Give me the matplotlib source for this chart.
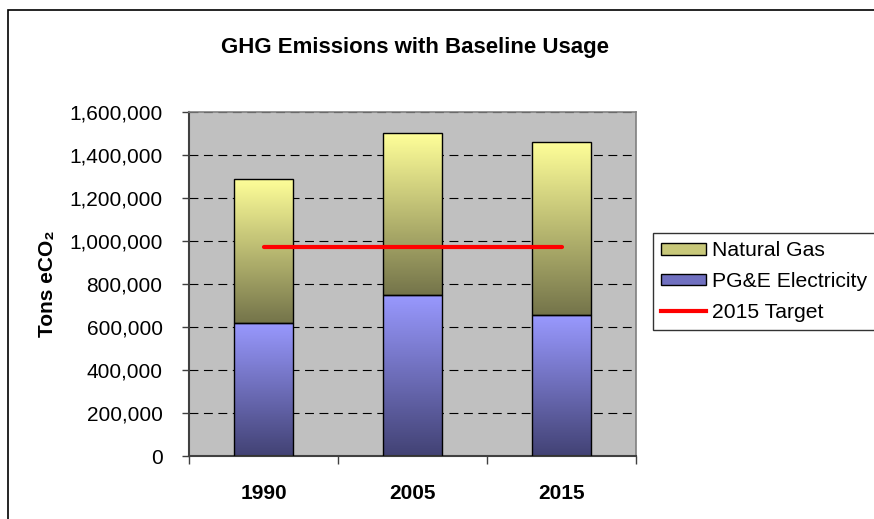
import numpy as np
import matplotlib
matplotlib.use('Agg')
import matplotlib.pyplot as plt
from matplotlib.colors import LinearSegmentedColormap
from matplotlib.patches import Patch, Rectangle
from matplotlib.lines import Line2D
from matplotlib.ticker import FuncFormatter, FixedLocator

plt.rcParams['font.family'] = ['Liberation Sans', 'DejaVu Sans']

# 数据
years = ['1990', '2005', '2015']
electricity = [620000, 750000, 655000]
natural_gas = [670000, 750000, 805000]
target = [970000, 970000, 970000]

# 渐变色
gas_cmap = LinearSegmentedColormap.from_list('gas', ['#74744A', '#FFFF99'])
elec_cmap = LinearSegmentedColormap.from_list('elec', ['#424274', '#9999FF'])

fig = plt.figure(figsize=(8.74, 5.19), dpi=100)
fig.patch.set_facecolor('white')
# 外框
fig.patches.append(Rectangle((8 / 874, -0.1), 1.2, 1 - 10 / 519 + 0.1, transform=fig.transFigure,
                             fill=False, edgecolor='black', linewidth=1.2))

ax = fig.add_axes([189 / 874, 1 - 456 / 519, 447 / 874, 344 / 519])
ax.set_facecolor('#C0C0C0')
x = np.arange(len(years))
width = 0.4


def gradient_bars(bars, cmap):
    grad = np.linspace(0, 1, 256).reshape(-1, 1)
    for b in bars:
        x0, y0 = b.get_x(), b.get_y()
        w, h = b.get_width(), b.get_height()
        im = ax.imshow(grad, cmap=cmap, origin='lower', aspect='auto',
                       extent=(x0, x0 + w, y0, y0 + h), zorder=2)
        im.set_clip_path(b)


elec_bars = ax.bar(x, electricity, width, facecolor='none', edgecolor='black', linewidth=1.0, zorder=3)
gas_bars = ax.bar(x, natural_gas, width, bottom=electricity, facecolor='none', edgecolor='black',
                  linewidth=1.0, zorder=3)
gradient_bars(elec_bars, elec_cmap)
gradient_bars(gas_bars, gas_cmap)

ax.plot(x, target, color='#FF0000', linewidth=3, solid_capstyle='round', zorder=4)

ax.set_xlim(-0.5, 2.5)
ax.set_ylim(0, 1600000)
ax.set_yticks(np.arange(0, 1600001, 200000))
ax.yaxis.set_major_formatter(FuncFormatter(lambda v, p: '{:,}'.format(int(v))))
ax.grid(axis='y', color='black', linestyle=(0, (8, 5)), linewidth=0.8, zorder=1)
ax.set_axisbelow(True)

ax.set_xticks(x)
ax.set_xticklabels(years, fontsize=15, fontweight='bold')
ax.xaxis.set_minor_locator(FixedLocator([-0.5, 0.5, 1.5, 2.5]))
ax.tick_params(axis='x', which='major', length=0, pad=20)
ax.tick_params(axis='x', which='minor', length=6, width=1, color='#404040')
ax.tick_params(axis='y', length=5, width=1, color='#404040', labelsize=15, pad=14)

for s in ['left', 'bottom']:
    ax.spines[s].set_color('#404040')
    ax.spines[s].set_linewidth(1.5)
for s in ['top', 'right']:
    ax.spines[s].set_color('#808080')
    ax.spines[s].set_linewidth(1.2)

ax.set_ylabel('Tons eCO₂', fontsize=15, fontweight='bold')
ax.yaxis.set_label_coords(-0.295, 0.5)

fig.text(415 / 874, 1 - 48 / 519, 'GHG Emissions with Baseline Usage', fontsize=16, fontweight='bold',
         ha='center', va='center')

# 图例
handles = [Patch(facecolor='#C8C87A', edgecolor='black', label='Natural Gas'),
           Patch(facecolor='#7070C0', edgecolor='black', label='PG&E Electricity'),
           Line2D([0], [0], color='#FF0000', linewidth=3, label='2015 Target')]
leg = fig.legend(handles=handles, loc='upper left', bbox_to_anchor=(653 / 874, 1 - 233 / 519),
                 fontsize=15.2, frameon=True, fancybox=False, edgecolor='black', borderpad=0.4,
                 labelspacing=0.55, handlelength=2.1, handleheight=0.45, handletextpad=0.3,
                 borderaxespad=0)
leg.get_frame().set_linewidth(1.0)

fig.savefig('out.png', dpi=100)
